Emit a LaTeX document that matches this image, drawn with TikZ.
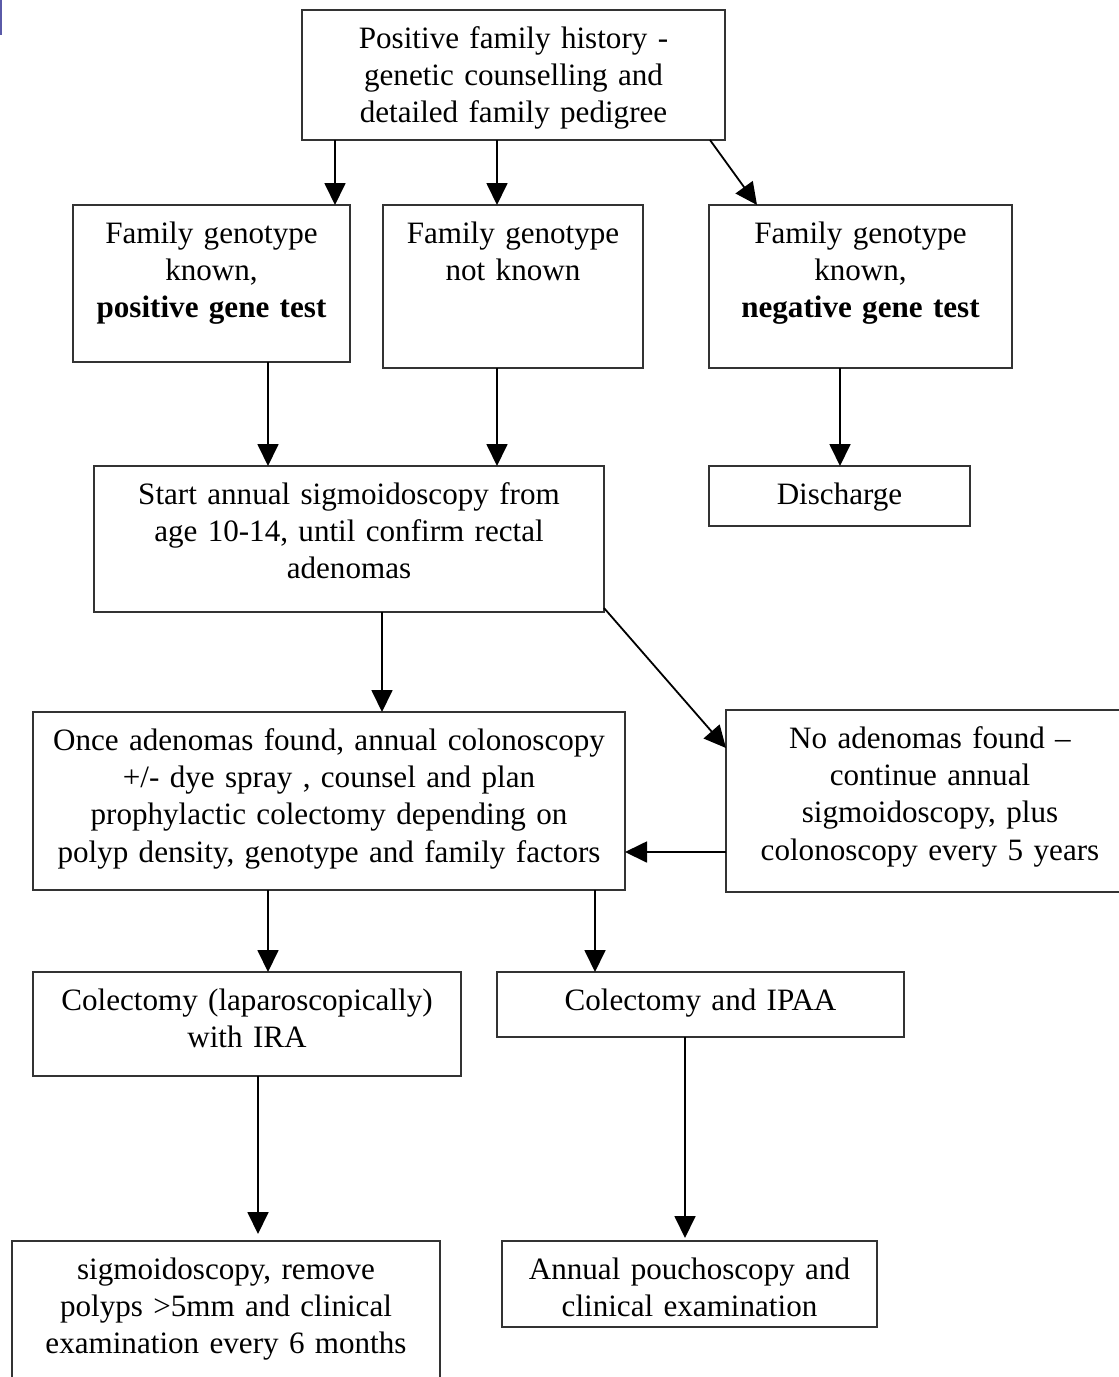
\documentclass[tikz,border=0pt]{standalone}
\usepackage{fontspec}
\setmainfont{Liberation Serif}
\usepackage{tikz}
\usetikzlibrary{arrows.meta,calc,positioning}
\definecolor{colorFrame}{HTML}{333333}
\definecolor{colorMark}{HTML}{5A5AA8}
\tikzset{
  stage/.style={draw=colorFrame, line width=1.4pt, rectangle, inner sep=0pt, outer sep=0pt, anchor=north west},
  stagetext/.style={anchor=base, yshift=-38.5pt, inner sep=0pt, text width=700pt, align=center, font=\fontsize{31.1}{37.2}\selectfont},
  flow/.style={line width=1.8pt, -{Triangle[length=22pt,width=21pt]}}
}
\begin{document}
\begin{tikzpicture}[x=1pt,y=-1pt]
  \useasboundingbox (0,0) rectangle (1119,1377);
  \draw[colorMark, line width=2.5pt] (1,0) -- (1,35);

  \node[stage, minimum width=423pt, minimum height=130pt, label={[stagetext]north:{Positive family history -\\genetic counselling and\\detailed family pedigree}}] (history) at (302,10) {};
  \node[stage, minimum width=277pt, minimum height=157pt, label={[stagetext]north:{Family genotype\\known,\\\textbf{positive gene test}}}] (positive) at (73,205) {};
  \node[stage, minimum width=260pt, minimum height=163pt, label={[stagetext]north:{Family genotype\\not known}}] (unknown) at (383,205) {};
  \node[stage, minimum width=303pt, minimum height=163pt, label={[stagetext]north:{Family genotype\\known,\\\textbf{negative gene test}}}] (negative) at (709,205) {};
  \node[stage, minimum width=510pt, minimum height=146pt, label={[stagetext]north:{Start annual sigmoidoscopy from\\age 10-14, until confirm rectal\\adenomas}}] (sigmoid) at (94,466) {};
  \node[stage, minimum width=261pt, minimum height=60pt, label={[stagetext]north:{Discharge}}] (discharge) at (709,466) {};
  \node[stage, minimum width=592pt, minimum height=178pt, label={[stagetext]north:{Once adenomas found, annual colonoscopy\\+/- dye spray , counsel and plan\\prophylactic colectomy depending on\\polyp density, genotype and family factors}}] (adenomas) at (33,712) {};
  \node[stage, minimum width=408pt, minimum height=182pt, label={[stagetext]north:{No adenomas found –\\continue annual\\sigmoidoscopy, plus\\colonoscopy every 5 years}}] (noadenomas) at (726,710) {};
  \node[stage, minimum width=428pt, minimum height=104pt, label={[stagetext]north:{Colectomy (laparoscopically)\\with IRA}}] (ira) at (33,972) {};
  \node[stage, minimum width=407pt, minimum height=65pt, label={[stagetext]north:{Colectomy and IPAA}}] (ipaa) at (497,972) {};
  \node[stage, minimum width=428pt, minimum height=150pt, label={[stagetext]north:{sigmoidoscopy, remove\\polyps >5mm and clinical\\examination every 6 months}}] (followira) at (12,1241) {};
  \node[stage, minimum width=375pt, minimum height=86pt, label={[stagetext]north:{Annual pouchoscopy and\\clinical examination}}] (followipaa) at (502,1241) {};

  \draw[flow] (history.south -| 335,0) -- (positive.north -| 335,0);
  \draw[flow] (history.south -| 497,0) -- (unknown.north -| 497,0);
  \draw[flow] ($(history.south east)+(-15,0)$) -- ($(negative.north west)+(48,0)$);
  \draw[flow] (positive.south -| 268,0) -- (sigmoid.north -| 268,0);
  \draw[flow] (unknown.south -| 497,0) -- (sigmoid.north -| 497,0);
  \draw[flow] (negative.south -| 840,0) -- (discharge.north -| 840,0);
  \draw[flow] (sigmoid.south -| 382,0) -- (adenomas.north -| 382,0);
  \draw[flow] ($(sigmoid.south east)+(0,-4)$) -- ($(noadenomas.north west)+(0,38)$);
  \draw[flow] (noadenomas.west |- 0,852) -- (adenomas.east |- 0,852);
  \draw[flow] (adenomas.south -| 268,0) -- (ira.north -| 268,0);
  \draw[flow] (adenomas.south -| 595,0) -- (ipaa.north -| 595,0);
  \draw[flow, shorten >=7pt] (ira.south -| 258,0) -- (followira.north -| 258,0);
  \draw[flow, shorten >=3pt] (ipaa.south -| 685,0) -- (followipaa.north -| 685,0);
\end{tikzpicture}
\end{document}
